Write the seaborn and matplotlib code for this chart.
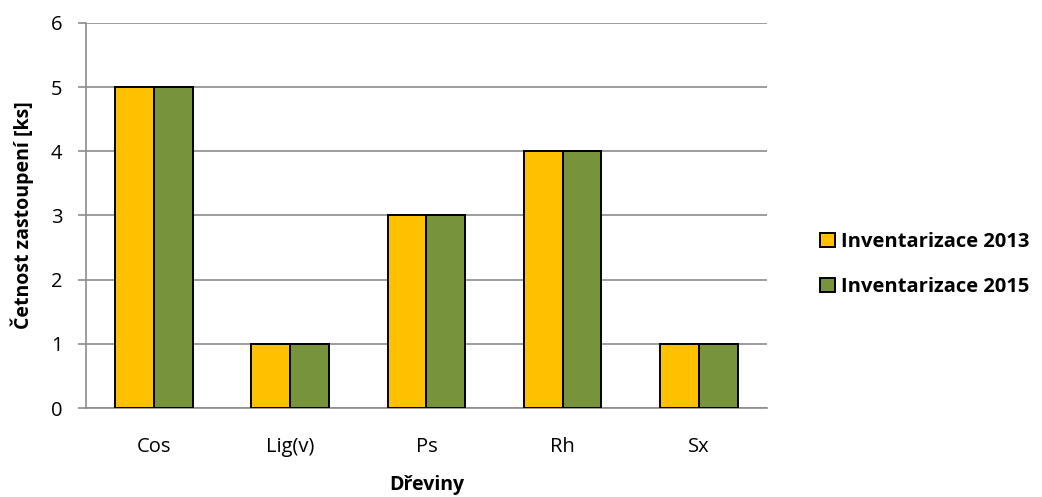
import pandas as pd
import numpy as np
import matplotlib
matplotlib.use('Agg')
import matplotlib.pyplot as plt
import seaborn as sns

# DATA #
dreviny = ['Cos', 'Lig(v)', 'Ps', 'Rh', 'Sx']
inv_2013 = [5, 1, 3, 4, 1]
inv_2015 = [5, 1, 3, 4, 1]
serie = ['Inventarizace 2013', 'Inventarizace 2015']

df = pd.DataFrame({
    'Dřeviny': dreviny * 2,
    'Četnost': inv_2013 + inv_2015,
    'Serie': [serie[0]] * len(dreviny) + [serie[1]] * len(dreviny),
})

sns.set_style('white')
plt.rcParams['font.family'] = ['Open Sans', 'DejaVu Sans']
plt.rcParams['text.color'] = 'black'
plt.rcParams['axes.labelcolor'] = 'black'
plt.rcParams['xtick.color'] = 'black'
plt.rcParams['ytick.color'] = 'black'

fig = plt.figure(figsize=(10.42, 4.97), dpi=100)
ax = fig.add_axes([0.0825, 0.179, 0.6535, 0.775])

sns.barplot(data=df, x='Dřeviny', y='Četnost', hue='Serie',
            palette=['#FFC000', '#77933C'], saturation=1, width=0.57, gap=0,
            edgecolor='black', linewidth=1.4, ax=ax, zorder=3)

ax.set_ylim(0, 6)
ax.set_xlim(-0.5, len(dreviny) - 0.5)
ax.set_yticks(range(0, 7))
ax.yaxis.grid(True, color='#8c8c8c', linewidth=1.2, zorder=0)
ax.set_axisbelow(True)

for side in ['top', 'right']:
    ax.spines[side].set_visible(False)
for side in ['left', 'bottom']:
    ax.spines[side].set_color('#8c8c8c')
    ax.spines[side].set_linewidth(1.2)

# tick marks between categories
ax.set_xticks(np.arange(-0.5, len(dreviny)), minor=True)
ax.tick_params(axis='x', which='major', length=0, labelsize=14.5, pad=21)
ax.tick_params(axis='x', which='minor', length=6, color='#8c8c8c', width=1.2)
ax.tick_params(axis='y', length=6, color='#8c8c8c', width=1.2, labelsize=14.5, pad=11, left=True)

ax.set_xlabel('Dřeviny', fontsize=14, fontweight='bold', labelpad=13)
ax.set_ylabel('Četnost zastoupení [ks]', fontsize=14, fontweight='bold', labelpad=12)

ax.legend(loc='center left', bbox_to_anchor=(0.77, 0.468), bbox_transform=fig.transFigure,
          frameon=False, handlelength=0.7, handleheight=0.7, handletextpad=0.3,
          labelspacing=1.25, prop={'size': 14.5, 'weight': 'bold'})

fig.savefig('out.png', dpi=100)
